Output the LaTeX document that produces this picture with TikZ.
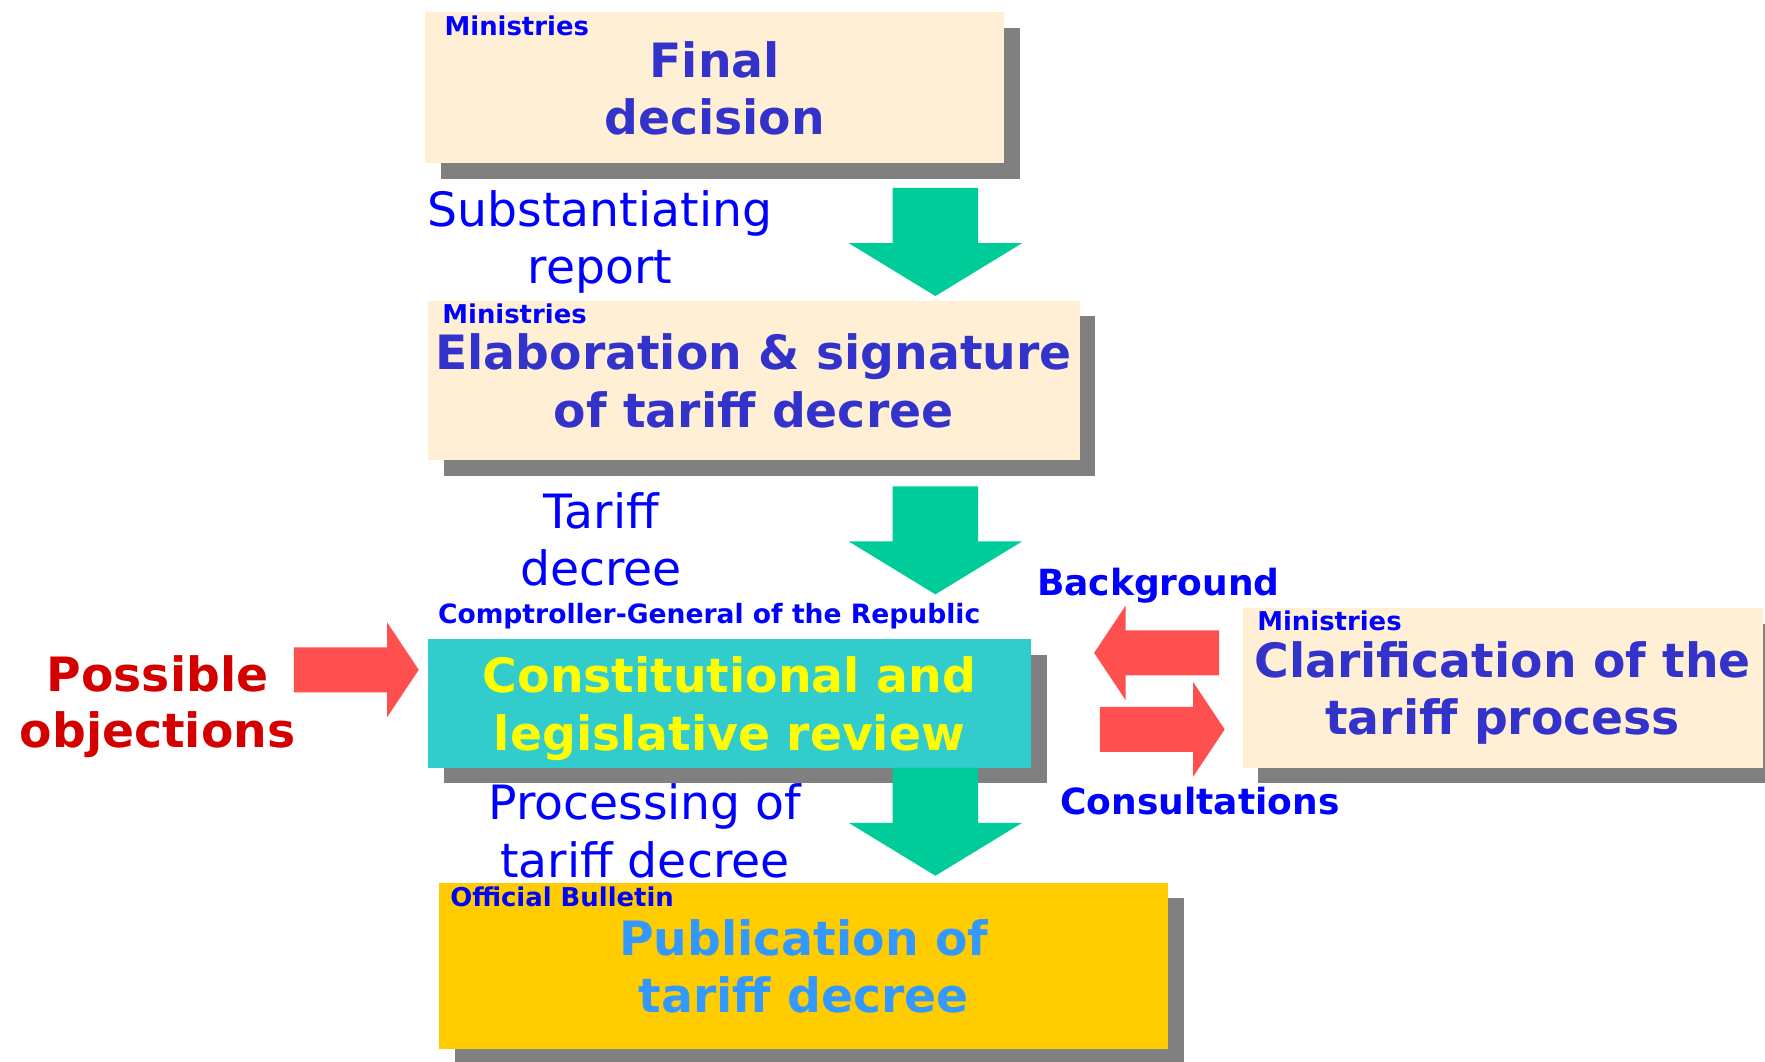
\documentclass[tikz,border=0pt]{standalone}
\usepackage{fontspec}
\setmainfont{DejaVu Sans}
\usetikzlibrary{positioning,shadows}

\definecolor{boxBeige}{HTML}{FFF0D5}
\definecolor{titleBlue}{HTML}{3333CC}
\definecolor{labelBlue}{HTML}{0000FF}
\definecolor{arrowGreen}{HTML}{00CC99}
\definecolor{arrowRed}{HTML}{FF5050}
\definecolor{objRed}{HTML}{D40000}
\definecolor{reviewTeal}{HTML}{33CCCC}
\definecolor{reviewYellow}{HTML}{FFFF00}
\definecolor{bulletinGold}{HTML}{FFCC00}
\definecolor{pubBlue}{HTML}{3399FF}
\definecolor{shadowGray}{HTML}{808080}

\begin{document}
\begin{tikzpicture}[x=1pt, y=-1pt]
    \tikzstyle{stepBox} = [rectangle, align=center, inner sep=0pt, text depth=-4pt, text=titleBlue, fill=boxBeige,
        font=\bfseries\fontsize{42}{51}\selectfont,
        drop shadow={shadow xshift=14pt, shadow yshift=-14pt, opacity=1, fill=shadowGray}]
    \tikzstyle{tagText} = [anchor=north west, inner sep=0pt, text=labelBlue, font=\bfseries\fontsize{23}{27}\selectfont]
    \tikzstyle{flowText} = [align=center, inner sep=0pt, text=labelBlue, font=\fontsize{42}{51}\selectfont]
    \tikzstyle{sideText} = [inner sep=0pt, text=labelBlue, font=\bfseries\fontsize{32}{38}\selectfont]
    \tikzstyle{greenArrow} = [fill=arrowGreen]
    \tikzstyle{redArrow} = [fill=arrowRed]

    \useasboundingbox (0,0) rectangle (1568,943);

    % steps
    \node[stepBox, minimum width=514pt, minimum height=134pt] (final) at (635,78) {Final\\decision};
    \node[stepBox, minimum width=579pt, minimum height=142pt] (elab) at (669.5,338) {Elaboration \& signature\\of tariff decree};
    \node[stepBox, minimum width=536pt, minimum height=114pt, fill=reviewTeal, text=reviewYellow] (review) at (648,625) {Constitutional and\\legislative review};
    \node[stepBox, minimum width=648pt, minimum height=148pt, fill=bulletinGold, text=pubBlue] (publ) at (714,858) {Publication of\\tariff decree};
    \node[stepBox, minimum width=462pt, minimum height=142pt] (clarif) at (1335,611) {Clarification of the\\tariff process};

    % who does it
    \node[tagText] (finalTag) at ([shift={(17,3)}]final.north west) {Ministries};
    \node[tagText] (elabTag) at ([shift={(13,3)}]elab.north west) {Ministries};
    \node[tagText] (clarifTag) at ([shift={(13,3)}]clarif.north west) {Ministries};
    \node[tagText] (publTag) at ([shift={(10,4)}]publ.north west) {Official Bulletin};
    \node[tagText, anchor=center, font=\bfseries\fontsize{23.6}{27}\selectfont] (reviewTag) at (630,547) {Comptroller-General of the Republic};

    % flow labels
    \node[flowText] (subst) at (533,215) {Substantiating\\report};
    \node[flowText] (decree) at (534,479) {Tariff\\decree};
    \node[flowText] (proc) at (573,738) {Processing of\\tariff decree};
    \node[flowText, font=\bfseries\fontsize{42}{50}\selectfont, text=objRed] (objections) at (140,628) {Possible\\objections};
    \node[sideText] (bgText) at (1029,520) {Background};
    \node[sideText] (coText) at (1066,712) {Consultations};

    % block arrows
    \coordinate (g1) at (831,167);
    \coordinate (g2) at (831,432);
    \coordinate (g3) at (831,682);
    \foreach \c in {g1,g2,g3}
        \fill[greenArrow, shift={(\c)}] (-38,0) -- (38,0) -- (38,49) -- (77,49) -- (0,96) -- (-77,49) -- (-38,49) -- cycle;

    \coordinate (po) at (372,595);
    \coordinate (bg) at (972,580);
    \coordinate (co) at (1088,648);
    \foreach \c/\dir in {po/1, bg/-1, co/1}
        \fill[redArrow, shift={(\c)}, xscale=\dir] (0,0) -- (-28,-42) -- (-28,-20) -- (-111,-20) -- (-111,20) -- (-28,20) -- (-28,42) -- cycle;

\end{tikzpicture}
\end{document}
